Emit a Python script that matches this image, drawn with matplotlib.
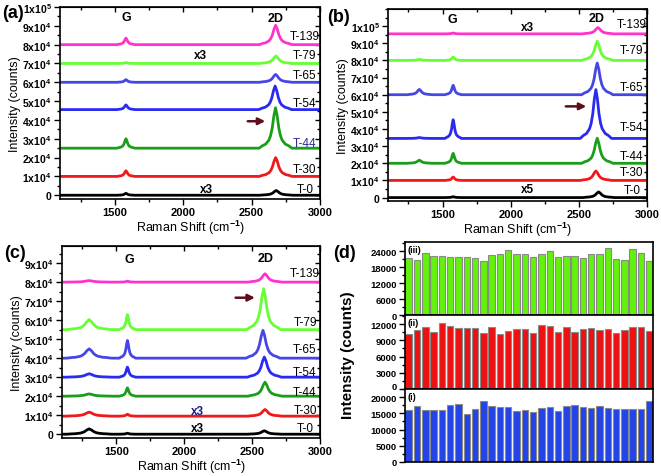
import numpy as np
import matplotlib.pyplot as plt
from matplotlib.ticker import MultipleLocator, FuncFormatter

plt.rcParams['font.family'] = ['Liberation Sans', 'DejaVu Sans']
plt.rcParams['font.weight'] = 'bold'
plt.rcParams['mathtext.fontset'] = 'custom'
plt.rcParams['mathtext.rm'] = 'Liberation Sans:bold'
plt.rcParams['mathtext.it'] = 'Liberation Sans:bold:italic'
plt.rcParams['mathtext.bf'] = 'Liberation Sans:bold'
plt.rcParams['mathtext.default'] = 'rm'

# samples and line colours (same order in every spectra panel)
names = ['T-0', 'T-30', 'T-44', 'T-54', 'T-65', 'T-79', 'T-139']
colors = ['black', '#f01818', '#1a9e1a', '#2a2af0', '#4646e6', '#66ff33', '#ff33cc']

# normalised peak profile (offset in half-widths, relative height)
prof_dx = [-5, -4, -3, -2, -1.5, -1, -0.5, 0, 0.5, 1, 1.5, 2, 3, 4, 5]
prof_y = [0, 0.06, 0.1, 0.2, 0.31, 0.5, 0.8, 1, 0.8, 0.5, 0.31, 0.2, 0.1, 0.06, 0]

# panel (a)
a_base = [0, 10000, 25000, 45500, 60000, 70000, 80000]
a_d = [0, 0, 0, 0, 0, 0, 0]
a_g = [1000, 3000, 5000, 2500, 1400, 500, 3500]
a_2d = [2500, 10000, 21500, 12500, 4200, 4000, 10300]
a_2d_pos = [2680, 2676, 2675, 2672, 2676, 2678, 2676]
a_d_pos, a_g_pos = 1330, 1582
a_d_hw, a_g_hw, a_2d_hw = 15, 13, 24

# panel (b)
b_base = [0, 10000, 20000, 34500, 60000, 80000, 95500]
b_d = [0, 0, 1800, 500, 3100, 600, 0]
b_g = [500, 2000, 5800, 10900, 5500, 2000, 500]
b_2d = [3300, 5500, 14600, 28500, 18500, 11300, 3700]
b_2d_pos = [2645, 2625, 2635, 2625, 2635, 2635, 2640]
b_d_pos, b_g_pos = 1330, 1578
b_d_hw, b_g_hw, b_2d_hw = 18, 12, 23

# panel (c)
c_base = [0, 9500, 20000, 30000, 40000, 55000, 80000]
c_d = [2800, 2100, 1200, 1800, 4900, 5300, 800]
c_g = [500, 1000, 4400, 5300, 9300, 7900, 500]
c_2d = [1800, 3500, 7400, 10600, 14600, 21500, 4400]
c_2d_pos = [2590, 2595, 2595, 2590, 2580, 2585, 2595]
c_d_pos, c_g_pos = 1300, 1582
c_d_hw, c_g_hw, c_2d_hw = 33, 12, 25

# panel (d) bar heights, 30 spots each
spots = np.arange(1, 31)
iii_vals = [21460, 20700, 23360, 22100, 22100, 22000, 22000, 21900, 21590, 20320,
            22600, 23100, 24640, 22860, 22860, 21840, 23100, 24130, 21710, 22220,
            22100, 21460, 23100, 22990, 25270, 21210, 20700, 24760, 23240, 20190]
ii_vals = [10100, 10980, 11490, 10600, 12190, 11620, 11370, 11370, 11240, 10350,
           11490, 10220, 10730, 11170, 11170, 10410, 11810, 11680, 10540, 11560,
           10540, 11050, 11300, 10860, 11050, 10410, 10980, 11490, 11490, 10790]
i_vals = [16000, 17300, 16000, 16000, 16000, 17700, 18000, 14900, 16400, 18800,
          17200, 17000, 16900, 15700, 16100, 15300, 16700, 17100, 15600, 17300,
          17600, 16900, 16500, 17400, 16600, 16300, 16300, 16300, 16300, 18700]


def spectrum(base, peaks):
    # peaks: list of (position, half width, height)
    xs, ys = [1100], [base]
    for pos, hw, h in sorted(peaks):
        if h <= 0:
            continue
        for dx, p in zip(prof_dx, prof_y):
            xs.append(pos + dx * hw)
            ys.append(base + h * p)
    xs.append(3000)
    ys.append(base)
    return xs, ys


def sci(v, pos):
    if abs(v) < 1:
        return '0'
    if v < 0:
        return ''
    e = int(np.floor(np.log10(v)))
    m = int(round(v / 10 ** e))
    return '%dx10$^{%d}$' % (m, e)


def style_spectra(ax, ymax):
    ax.set_xlim(1100, 3000)
    ax.set_ylim(-2000, ymax)
    ax.xaxis.set_major_locator(MultipleLocator(500))
    ax.xaxis.set_minor_locator(MultipleLocator(250))
    ax.yaxis.set_major_locator(MultipleLocator(10000))
    ax.yaxis.set_minor_locator(MultipleLocator(5000))
    ax.yaxis.set_major_formatter(FuncFormatter(sci))
    ax.tick_params(which='both', direction='out', width=1)
    ax.tick_params(which='major', length=4)
    ax.tick_params(which='minor', length=2)
    ax.tick_params(axis='x', labelsize=8, pad=2)
    ax.tick_params(axis='y', labelsize=7.5, pad=2)
    for s in ax.spines.values():
        s.set_linewidth(1.2)
    top = ax.secondary_xaxis('top')
    top.xaxis.set_major_locator(MultipleLocator(500))
    top.xaxis.set_minor_locator(MultipleLocator(250))
    top.tick_params(which='both', direction='in', labeltop=False, width=1)
    top.tick_params(which='minor', length=2)
    right = ax.secondary_yaxis('right')
    right.yaxis.set_major_locator(MultipleLocator(10000))
    right.yaxis.set_minor_locator(MultipleLocator(5000))
    right.tick_params(which='both', direction='in', labelright=False, width=1)
    right.tick_params(which='minor', length=2)
    ax.set_xlabel('Raman Shift (cm$^{-1}$)', fontsize=9, labelpad=0)
    ax.set_ylabel('Intensity (counts)', fontsize=9, labelpad=1)


fig = plt.figure(figsize=(6.61, 4.77), dpi=100)

panels = [
    ([60 / 661, 1 - 200 / 477, 260 / 661, 192 / 477], a_base, a_d, a_g, a_2d, a_2d_pos,
     (a_d_pos, a_g_pos), (a_d_hw, a_g_hw, a_2d_hw), 100000),
    ([388 / 661, 1 - 202 / 477, 259 / 661, 192 / 477], b_base, b_d, b_g, b_2d, b_2d_pos,
     (b_d_pos, b_g_pos), (b_d_hw, b_g_hw, b_2d_hw), 110000),
    ([62 / 661, 1 - 439 / 477, 258 / 661, 192 / 477], c_base, c_d, c_g, c_2d, c_2d_pos,
     (c_d_pos, c_g_pos), (c_d_hw, c_g_hw, c_2d_hw), 99000),
]

axes = []
for rect, base, dh, gh, th, tpos, (dpos, gpos), (dhw, ghw, thw), ymax in panels:
    ax = fig.add_axes(rect)
    for k in range(len(names)):
        xs, ys = spectrum(base[k], [(dpos, dhw, dh[k]), (gpos, ghw, gh[k]), (tpos[k], thw, th[k])])
        ax.plot(xs, ys, color=colors[k], lw=2.0, solid_joinstyle='round')
    style_spectra(ax, ymax)
    axes.append(ax)

ax_a, ax_b, ax_c = axes
ax_c.set_yticks(np.arange(0, 100000, 10000))
ax_b.set_yticks(np.arange(0, 110000, 10000))

# sample labels, peak names, scale notes and arrows
a_lab_y = [3200, 13800, 28000, 49200, 64000, 74700, 84600]
b_lab_y = [4500, 15000, 24400, 40900, 64300, 85800, 101400]
c_lab_y = [3000, 12900, 22000, 32600, 44600, 59100, 84700]
for ax, ly in [(ax_a, a_lab_y), (ax_b, b_lab_y), (ax_c, c_lab_y)]:
    for k, n in enumerate(names):
        col = '#2a2a9a' if (ax is ax_a and n == 'T-44') else 'black'
        ax.text(2890, ly[k], n, fontsize=8.5, fontweight='normal', color=col, ha='center', va='center')

ax_a.text(1582, 94700, 'G', fontsize=9, ha='center', va='center')
ax_a.text(2679, 94200, '2D', fontsize=9, ha='center', va='center')
ax_a.text(2123, 74700, 'x3', fontsize=8.5, ha='center', va='center')
ax_a.text(2170, 3500, 'x3', fontsize=8.5, ha='center', va='center')
ax_b.text(1575, 104000, 'G', fontsize=9, ha='center', va='center')
ax_b.text(2631, 105000, '2D', fontsize=9, ha='center', va='center')
ax_b.text(2120, 99400, 'x3', fontsize=8.5, ha='center', va='center')
ax_b.text(2120, 4900, 'x5', fontsize=8.5, ha='center', va='center')
ax_c.text(1596, 92200, 'G', fontsize=9, ha='center', va='center')
ax_c.text(2599, 92600, '2D', fontsize=9, ha='center', va='center')
ax_c.text(2100, 12300, 'x3', fontsize=8.5, ha='center', va='center', color='#1a1a80')
ax_c.text(2100, 3200, 'x3', fontsize=8.5, ha='center', va='center')

arrow_kw = dict(arrowstyle='-|>', color='#5a0f1a', lw=1.8, mutation_scale=10)
ax_a.annotate('', xy=(2620, 39300), xytext=(2452, 39300), arrowprops=arrow_kw)
ax_b.annotate('', xy=(2575, 53200), xytext=(2384, 53200), arrowprops=arrow_kw)
ax_c.annotate('', xy=(2541, 71800), xytext=(2358, 71800), arrowprops=arrow_kw)

# panel (d): three stacked bar charts
bar_panels = [
    (243, 316, iii_vals, '#62f20c', 27500, 6000, '(iii)'),
    (316, 390, ii_vals, '#ee1111', 13700, 3000, '(ii)'),
    (390, 463, i_vals, '#2244e8', 22500, 5000, '(i)'),
]
for top_px, bot_px, vals, col, ymax, step, tag in bar_panels:
    ax = fig.add_axes([405 / 661, 1 - bot_px / 477, 248 / 661, (bot_px - top_px) / 477])
    ax.bar(spots, vals, width=0.78, color=col, edgecolor='#8a8a8a', lw=0.8)
    ax.set_xlim(0.55, 30.45)
    ax.set_ylim(0, ymax)
    ax.yaxis.set_major_locator(MultipleLocator(step))
    ax.yaxis.set_minor_locator(MultipleLocator(step / 2))
    ax.set_xticks([])
    ax.tick_params(axis='y', which='both', direction='out', width=1, labelsize=6.8, pad=2)
    ax.tick_params(axis='y', which='major', length=4)
    ax.tick_params(axis='y', which='minor', length=2)
    for s in ax.spines.values():
        s.set_linewidth(1.2)
    ax.text(0.012, 0.96, tag, transform=ax.transAxes, fontsize=6.5, ha='left', va='top')
    if tag == '(ii)':
        # zero label nudged up so it clears the "20000" of the panel below
        ax.yaxis.set_major_formatter(FuncFormatter(lambda v, p: '' if v == 0 else '%d' % v))
        ax.annotate('0', xy=(0, 0), xycoords='axes fraction', xytext=(-6, 2),
                    textcoords='offset points', ha='right', va='center', fontsize=6.8)

fig.text(348 / 661, 1 - 355 / 477, 'Intensity (counts)', rotation=90, fontsize=11,
         ha='center', va='center')

# panel letters
fig.text(2 / 661, 1 - 13 / 477, '(a)', fontsize=13, ha='left', va='center')
fig.text(327 / 661, 1 - 17 / 477, '(b)', fontsize=13, ha='left', va='center')
fig.text(4 / 661, 1 - 253 / 477, '(c)', fontsize=13, ha='left', va='center')
fig.text(333 / 661, 1 - 253 / 477, '(d)', fontsize=13, ha='left', va='center')

fig.savefig('out.png', dpi=100)
